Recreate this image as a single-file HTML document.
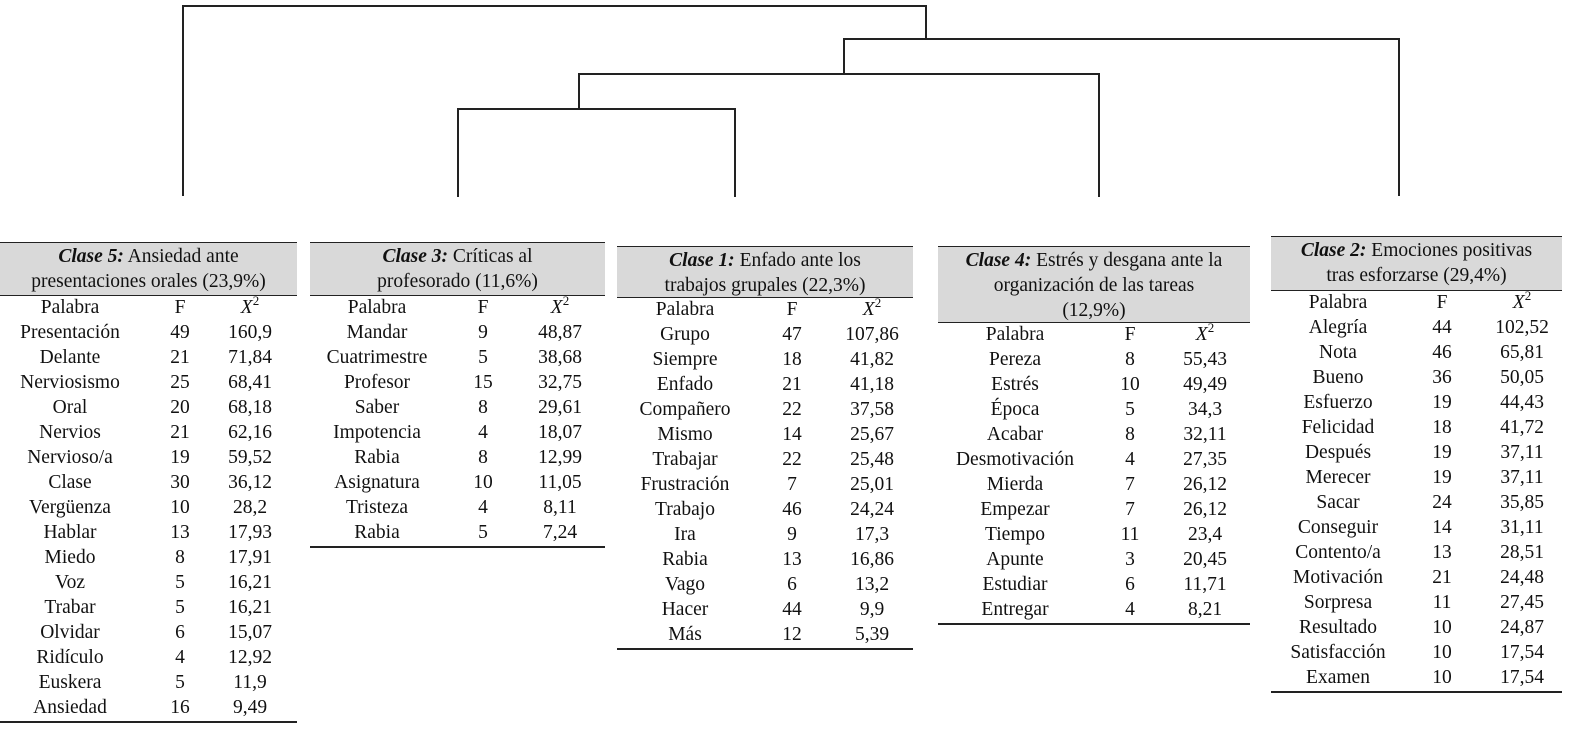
<!DOCTYPE html>
<html><head><meta charset="utf-8"><style>
html,body{margin:0;width:1592px;height:736px;overflow:hidden}
body{background:#fff;position:relative;font-family:"Liberation Serif",serif;color:#111}
.l{position:absolute;background:#222}
.t{position:absolute}
.hd{position:absolute;left:0;right:0;background:#d9d9d9;border-top:1.5px solid #222;border-bottom:1.5px solid #222;text-align:center;font-size:19.5px;line-height:25px;box-sizing:border-box;padding-top:1px}
.r{position:absolute;left:0;right:0;height:25px;font-size:19.5px;line-height:25px}
.r span{position:absolute;transform:translateX(-50%);white-space:nowrap}
.bl{position:absolute;left:0;right:0;height:1.5px;background:#222}
i{font-weight:bold}
sup{font-size:13px;line-height:0;vertical-align:8px}
</style></head><body>
<div class="l" style="left:182px;top:5px;width:744px;height:1.5px"></div>
<div class="l" style="left:182px;top:5px;width:1.5px;height:191px"></div>
<div class="l" style="left:925px;top:5px;width:1.5px;height:34px"></div>
<div class="l" style="left:843px;top:38px;width:556px;height:1.5px"></div>
<div class="l" style="left:1398px;top:38px;width:1.5px;height:158px"></div>
<div class="l" style="left:843px;top:38px;width:1.5px;height:36px"></div>
<div class="l" style="left:578px;top:73px;width:521px;height:1.5px"></div>
<div class="l" style="left:1098px;top:73px;width:1.5px;height:124px"></div>
<div class="l" style="left:578px;top:73px;width:1.5px;height:36px"></div>
<div class="l" style="left:457px;top:108px;width:278px;height:1.5px"></div>
<div class="l" style="left:457px;top:108px;width:1.5px;height:89px"></div>
<div class="l" style="left:734px;top:108px;width:1.5px;height:89px"></div>
<div id="c"></div>
<script>
const T=[
{x:0,w:297,top:242,hh:54,c:[70,180,250],h:'<i>Clase 5:</i> Ansiedad ante<br>presentaciones orales (23,9%)',
rows:"Presentación 49 160,9|Delante 21 71,84|Nerviosismo 25 68,41|Oral 20 68,18|Nervios 21 62,16|Nervioso/a 19 59,52|Clase 30 36,12|Vergüenza 10 28,2|Hablar 13 17,93|Miedo 8 17,91|Voz 5 16,21|Trabar 5 16,21|Olvidar 6 15,07|Ridículo 4 12,92|Euskera 5 11,9|Ansiedad 16 9,49"},
{x:310,w:295,top:242,hh:54,c:[67,173,250],h:'<i>Clase 3:</i> Críticas al<br>profesorado (11,6%)',
rows:"Mandar 9 48,87|Cuatrimestre 5 38,68|Profesor 15 32,75|Saber 8 29,61|Impotencia 4 18,07|Rabia 8 12,99|Asignatura 10 11,05|Tristeza 4 8,11|Rabia 5 7,24"},
{x:617,w:296,top:246,hh:52,c:[68,175,255],h:'<i>Clase 1:</i> Enfado ante los<br>trabajos grupales (22,3%)',
rows:"Grupo 47 107,86|Siempre 18 41,82|Enfado 21 41,18|Compañero 22 37,58|Mismo 14 25,67|Trabajar 22 25,48|Frustración 7 25,01|Trabajo 46 24,24|Ira 9 17,3|Rabia 13 16,86|Vago 6 13,2|Hacer 44 9,9|Más 12 5,39"},
{x:938,w:312,top:246,hh:77,c:[77,192,267],h:'<i>Clase 4:</i> Estrés y desgana ante la<br>organización de las tareas<br>(12,9%)',
rows:"Pereza 8 55,43|Estrés 10 49,49|Época 5 34,3|Acabar 8 32,11|Desmotivación 4 27,35|Mierda 7 26,12|Empezar 7 26,12|Tiempo 11 23,4|Apunte 3 20,45|Estudiar 6 11,71|Entregar 4 8,21"},
{x:1271,w:291,top:236,hh:55,c:[67,171,251],h:'<i>Clase 2:</i> Emociones positivas<br>tras esforzarse (29,4%)',
rows:"Alegría 44 102,52|Nota 46 65,81|Bueno 36 50,05|Esfuerzo 19 44,43|Felicidad 18 41,72|Después 19 37,11|Merecer 19 37,11|Sacar 24 35,85|Conseguir 14 31,11|Contento/a 13 28,51|Motivación 21 24,48|Sorpresa 11 27,45|Resultado 10 24,87|Satisfacción 10 17,54|Examen 10 17,54"}];
let html='';
for(const t of T){
 let s=`<div class="t" style="left:${t.x}px;top:${t.top}px;width:${t.w}px;height:10px">`;
 s+=`<div class="hd" style="top:0;height:${t.hh}px">${t.h}</div>`;
 const rows=[["Palabra","F","<em>X</em><sup>2</sup>"]].concat(t.rows.split("|").map(r=>r.split(" ")));
 let y=t.hh-1;
 rows.forEach(r=>{s+=`<div class="r" style="top:${y}px">`+r.map((v,k)=>`<span style="left:${t.c[k]}px">${v}</span>`).join('')+`</div>`;y+=25;});
 s+=`<div class="bl" style="top:${y+1}px"></div></div>`;
 html+=s;
}
document.getElementById('c').innerHTML=html;
</script>
</body></html>
